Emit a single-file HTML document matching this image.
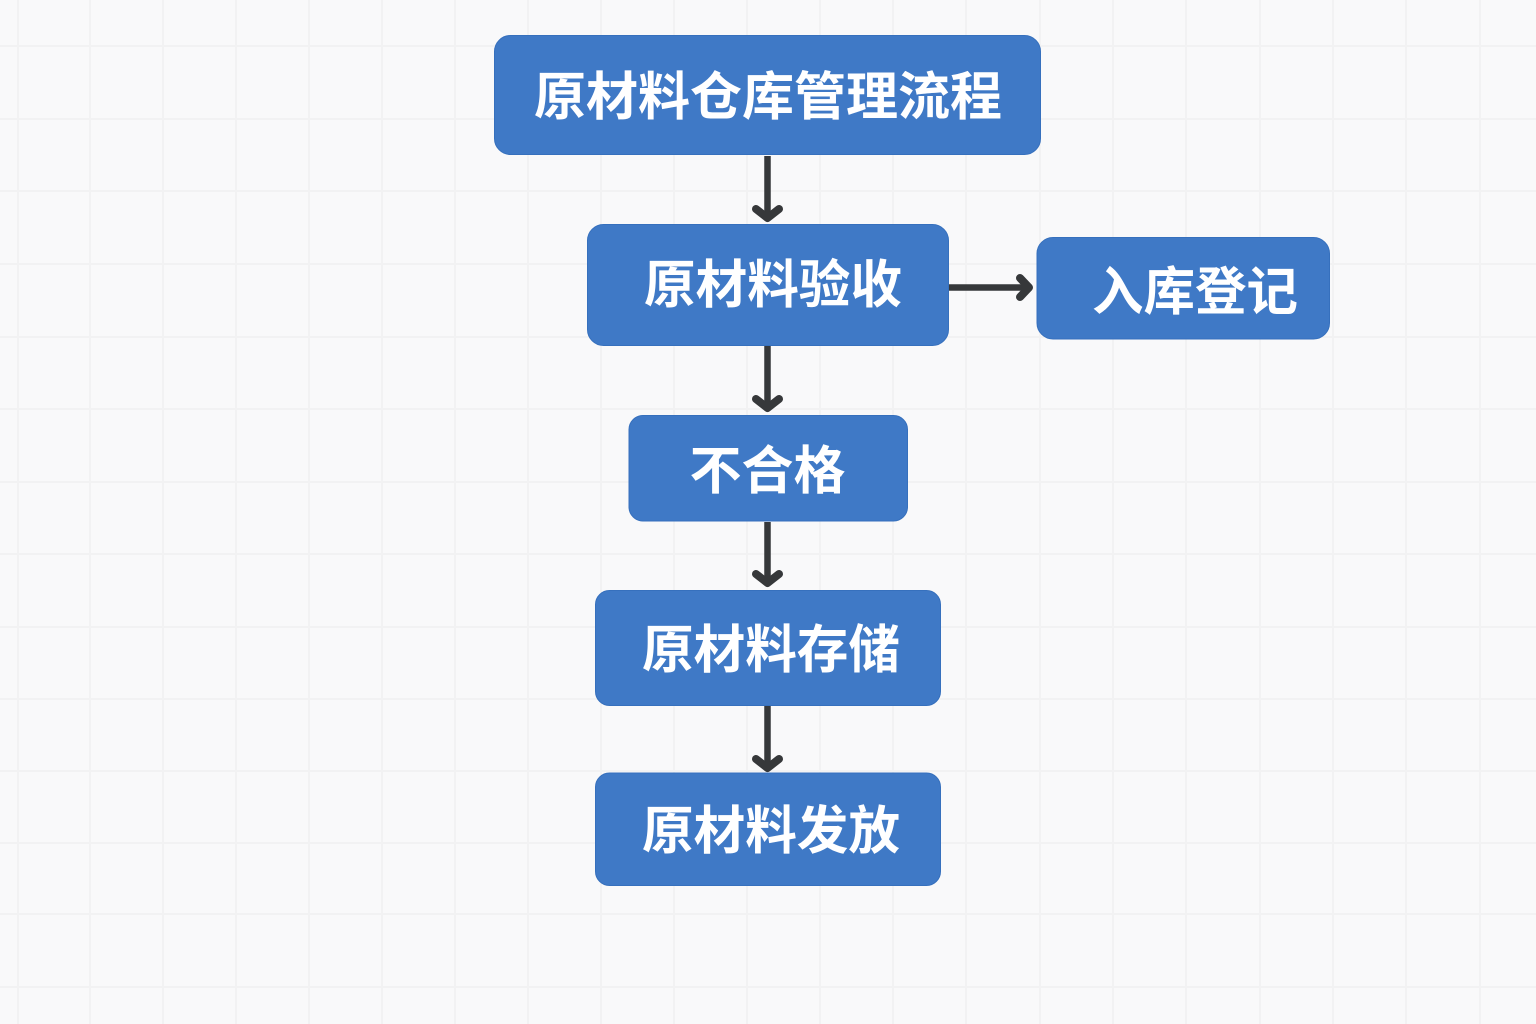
<!DOCTYPE html>
<html lang="zh">
<head>
<meta charset="utf-8">
<style>
html,body{margin:0;padding:0;width:1536px;height:1024px;overflow:hidden;background:#f9f9fa}
svg{position:absolute;left:0;top:0;display:block}
text{font-family:"Liberation Sans","Noto Sans CJK SC",sans-serif;font-weight:700;fill:#fff;text-anchor:middle}
</style>
</head>
<body>
<svg width="1536" height="1024" viewBox="0 0 1536 1024" xmlns="http://www.w3.org/2000/svg">
<g stroke="#f2f2f3" stroke-width="2" fill="none">
<path d="M18 0V1024M90 0V1024M163 0V1024M236 0V1024M309 0V1024M382 0V1024M455 0V1024M528 0V1024M601 0V1024M674 0V1024M747 0V1024M820 0V1024M893 0V1024M966 0V1024M1040 0V1024M1113 0V1024M1186 0V1024M1260 0V1024M1333 0V1024M1406 0V1024M1480 0V1024"/>
<path d="M0 46H1536M0 119H1536M0 191H1536M0 264H1536M0 337H1536M0 409H1536M0 482H1536M0 554H1536M0 627H1536M0 699H1536M0 771H1536M0 843H1536M0 914H1536M0 987H1536"/>
</g>
<g fill="#3f79c6" stroke="#3670bd" stroke-width="1">
<rect x="494.500" y="35.500" width="546" height="119" rx="16"/>
<rect x="587.500" y="224.500" width="361" height="121" rx="16"/>
<rect x="1037" y="237.500" width="292.500" height="101.500" rx="16"/>
<rect x="629" y="415.500" width="278.500" height="105.500" rx="14"/>
<rect x="595.500" y="590.500" width="345" height="115" rx="14"/>
<rect x="595.500" y="773" width="345" height="112.500" rx="14"/>
</g>
<g stroke="#36383a" stroke-width="6.500" fill="none" stroke-linecap="butt">
<path d="M767.500 156V216"/>
<path d="M767.500 346V406"/>
<path d="M767.500 522V581"/>
<path d="M767.500 706V766"/>
<path d="M949 287.500H1027"/>
</g>
<g stroke="#36383a" stroke-width="8" fill="none" stroke-linecap="round" stroke-linejoin="round">
<path d="M756 209L767.500 218L779 209"/>
<path d="M756 399L767.500 408L779 399"/>
<path d="M756 574L767.500 583L779 574"/>
<path d="M756 759L767.500 768L779 759"/>
<path d="M1020 278L1029 287.500L1020 297"/>
</g>
<text x="768" y="115" font-size="52" textLength="468" lengthAdjust="spacingAndGlyphs">原材料仓库管理流程</text>
<text x="773" y="303" font-size="52" textLength="258" lengthAdjust="spacingAndGlyphs">原材料验收</text>
<text x="1195" y="310" font-size="52" textLength="206" lengthAdjust="spacingAndGlyphs">入库登记</text>
<text x="767.500" y="489" font-size="52" textLength="156" lengthAdjust="spacingAndGlyphs">不合格</text>
<text x="771" y="668" font-size="52" textLength="258" lengthAdjust="spacingAndGlyphs">原材料存储</text>
<text x="771" y="849" font-size="52" textLength="258" lengthAdjust="spacingAndGlyphs">原材料发放</text>
</svg>
</body>
</html>
